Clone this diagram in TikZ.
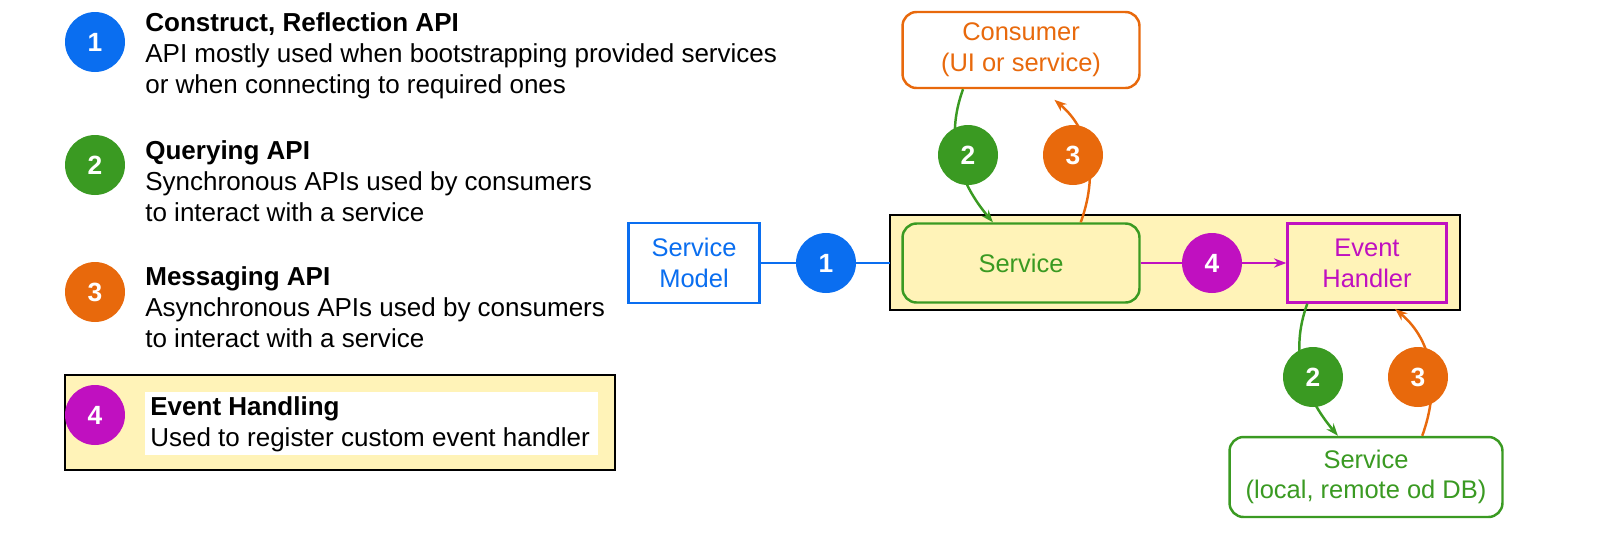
\documentclass[tikz,border=0pt]{standalone}
\usepackage{fontspec}
\setmainfont{Liberation Sans}
\usetikzlibrary{arrows.meta, positioning}
\definecolor{cblue}{HTML}{0A6EF0}
\definecolor{cgreen}{HTML}{3A9A22}
\definecolor{corange}{HTML}{E8690C}
\definecolor{cmagenta}{HTML}{C010C0}
\definecolor{cyellow}{HTML}{FFF3B8}
\tikzset{
  num/.style={circle, fill=#1, text=white, minimum size=1.2cm, inner sep=0pt, font=\fontsize{15}{18}\selectfont\bfseries},
  box/.style={draw=#1, text=#1, line width=1.4pt, align=center, font=\fontsize{14.5}{17.5}\selectfont},
  desc/.style={anchor=north west, align=left, inner sep=0pt, font=\fontsize{14.8}{17.6}\selectfont},
  flow/.style={line width=1.4pt, -{Stealth[length=7pt]}}
}
\begin{document}
\begin{tikzpicture}[x=0.02cm, y=-0.02cm]
\useasboundingbox (0,0) rectangle (1600,539);
% legend
\node[num=cblue] (l1) at (95,42) {1};
\node[desc] (t1) at (145,12) {\textbf{Construct, Reflection API}\\API mostly used when bootstrapping provided services\\or when connecting to required ones};
\node[num=cgreen] (l2) at (95,165) {2};
\node[desc] (t2) at (145,140) {\textbf{Querying API}\\Synchronous APIs used by consumers\\to interact with a service};
\node[num=corange] (l3) at (95,292) {3};
\node[desc] (t3) at (145,266) {\textbf{Messaging API}\\Asynchronous APIs used by consumers\\to interact with a service};
\fill[cyellow, draw=black, line width=0.6pt] (65,375) rectangle (615,470);
\fill[white] (145,392) rectangle (598,455);
\node[num=cmagenta] (l4) at (95,415) {4};
\node[desc] (t4) at (150,396) {\textbf{Event Handling}\\Used to register custom event handler};
% diagram
\draw[fill=cyellow, line width=0.6pt] (890,215) rectangle (1460,310);
\node[box=cblue, fill=white, minimum width=2.62cm, minimum height=1.6cm] (model) at (694,263) {Service\\Model};
\node[box=cgreen, rounded corners=8pt, minimum width=4.74cm, minimum height=1.58cm] (svc) at (1021,263) {Service};
\node[box=cmagenta, minimum width=3.18cm, minimum height=1.58cm] (handler) at (1367,263) {Event\\Handler};
\node[box=corange, fill=white, rounded corners=8pt, minimum width=4.74cm, minimum height=1.52cm] (consumer) at (1021,50) {Consumer\\(UI or service)};
\node[box=cgreen, fill=white, rounded corners=8pt, minimum width=5.46cm, minimum height=1.6cm] (backend) at (1366,477) {Service\\(local, remote od DB)};
\draw[cblue, line width=1.4pt] (model) -- (890,263);
\node[num=cblue] (n1) at (826,263) {1};
\draw[flow, cmagenta] (svc) -- (handler);
\node[num=cmagenta] (n4) at (1212,263) {4};
% consumer <-> service
\draw[flow, cgreen] ([xshift=-33]consumer.south) to[out=-110, in=130] ([xshift=-16]svc.north);
\draw[flow, corange] ([xshift=34]svc.north) to[out=70, in=-40] ([xshift=19,yshift=-6]consumer.south);
\node[num=cgreen] (n2a) at (968,155) {2};
\node[num=corange] (n3a) at (1073,155) {3};
% handler <-> backend
\draw[flow, cgreen] ([xshift=-34]handler.south) to[out=-110, in=130] ([xshift=-16]backend.north);
\draw[flow, corange] ([xshift=32]backend.north) to[out=70, in=-40] ([xshift=16,yshift=-3]handler.south);
\node[num=cgreen] (n2b) at (1313,377) {2};
\node[num=corange] (n3b) at (1418,377) {3};
\end{tikzpicture}
\end{document}
